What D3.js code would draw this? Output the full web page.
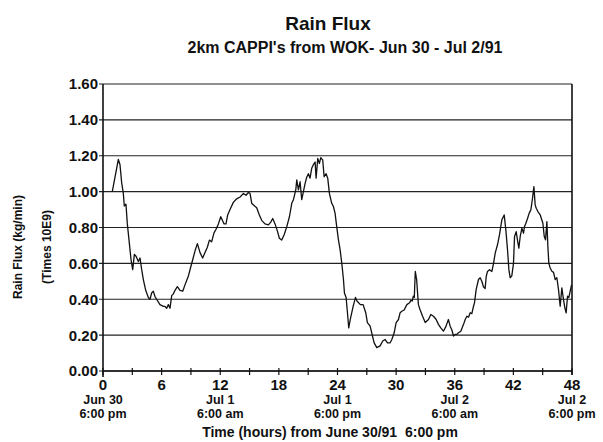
<!DOCTYPE html>
<html>
<head>
<meta charset="utf-8">
<script src="https://cdn.jsdelivr.net/npm/d3@7"></script>
<style>
  body { margin: 0; background: #fff; }
  text { font-family: "Liberation Sans", Arial, sans-serif; fill: #111; }
</style>
</head>
<body>
<div id="chart"></div>
<script>
// hours from Jun 30/91 6:00 pm
const hours = [
  0.95, 1.57, 1.74, 1.91, 2.08, 2.18, 2.35, 2.49, 2.70, 2.87, 3.04, 3.21, 3.38, 3.62, 3.79, 3.96,
  4.13, 4.37, 4.64, 4.81, 4.98, 5.15, 5.32, 5.49, 5.83, 6.18, 6.34, 6.52, 6.69, 6.86, 7.03, 7.20,
  7.37, 7.61, 7.88, 8.16, 8.39, 8.74, 8.98, 9.18, 9.42, 9.66, 9.93, 10.20, 10.44, 10.68, 10.89,
  11.12, 11.36, 11.57, 11.81, 12.05, 12.22, 12.39, 12.59, 12.76, 13.00, 13.34, 13.68, 14.03, 14.37,
  14.64, 14.88, 15.05, 15.22,
  15.40, 15.73, 16.00, 16.24, 16.58, 16.93, 17.17, 17.37, 17.61, 17.85, 18.05, 18.29, 18.54, 18.81,
  19.08, 19.32, 19.49, 19.73, 19.83, 20.00, 20.17, 20.34, 20.68, 20.85, 21.02, 21.19, 21.36, 21.53,
  21.71, 21.81, 21.98, 22.15, 22.29, 22.49, 22.63, 22.83, 23.00, 23.17, 23.41, 23.58, 23.75, 23.92,
  24.10, 24.27, 24.44, 24.61, 24.71, 24.88, 25.02, 25.15, 25.32, 25.60, 25.84, 25.99, 26.34, 26.62,
  26.89, 27.06, 27.34, 27.58, 27.75, 28.02, 28.36, 28.63, 28.87, 29.11, 29.39, 29.56, 29.80, 30.00,
  30.24, 30.41, 30.58, 30.82, 31.10, 31.37, 31.51, 31.65, 31.76, 31.86, 31.96, 32.10,
  32.28, 32.46, 32.71, 32.98, 33.31, 33.55, 33.82, 34.10, 34.33, 34.57, 34.84, 35.11, 35.35, 35.53,
  35.70, 35.87, 36.04, 36.21, 36.38, 36.62, 36.90, 37.07, 37.24, 37.41, 37.58, 37.75, 37.92, 38.02,
  38.19, 38.43, 38.60, 38.77, 38.94, 39.11, 39.22, 39.35, 39.56, 39.80, 39.97, 40.14, 40.38, 40.58,
  40.82, 41.06, 41.23, 41.40, 41.54, 41.67, 41.84, 42.01, 42.12, 42.29, 42.42, 42.56, 42.70, 42.87,
  43.04, 43.14, 43.28, 43.45, 43.62, 43.79, 43.96, 44.10, 44.23, 44.34, 44.51, 44.75, 45.02, 45.16,
  45.29, 45.43, 45.53, 45.63, 45.77, 45.94, 46.11, 46.28, 46.45, 46.62, 46.79, 46.96, 47.13, 47.27,
  47.40, 47.54, 47.68, 47.81, 47.95, 48.05, 48.12
];

// rain flux, kg/min times 10E9
const flux = [
  1.00, 1.18, 1.15, 1.05, 0.99, 0.92, 0.93, 0.82, 0.71, 0.62, 0.565, 0.65, 0.64, 0.61, 0.63, 0.565,
  0.51, 0.45, 0.41, 0.40, 0.435, 0.445, 0.415, 0.40, 0.37, 0.36, 0.36, 0.35, 0.37, 0.35, 0.42, 0.43,
  0.45, 0.47, 0.45, 0.445, 0.48, 0.53, 0.58, 0.62, 0.67, 0.71, 0.66, 0.63, 0.66, 0.69, 0.73,
  0.72, 0.77, 0.79, 0.82, 0.86, 0.84, 0.82, 0.82, 0.87, 0.90, 0.94, 0.96, 0.97, 0.99,
  0.98, 0.995, 0.99, 0.935,
  0.925, 0.91, 0.87, 0.84, 0.82, 0.815, 0.83, 0.85, 0.82, 0.78, 0.74, 0.73, 0.76, 0.805,
  0.86, 0.935, 0.955, 1.01, 1.065, 1.01, 1.055, 0.955, 1.045, 1.08, 1.10, 1.075, 1.13, 1.15,
  1.165, 1.075, 1.185, 1.157, 1.19, 1.175, 1.083, 1.10, 1.075, 0.99, 0.935, 0.917, 0.88, 0.805,
  0.73, 0.675, 0.60, 0.51, 0.435, 0.41, 0.325, 0.24, 0.29, 0.36, 0.41, 0.39, 0.37, 0.37,
  0.325, 0.27, 0.25, 0.195, 0.157, 0.13, 0.14, 0.167, 0.176, 0.157, 0.157, 0.176, 0.213, 0.27,
  0.287, 0.325, 0.333, 0.34, 0.37, 0.38, 0.394, 0.39, 0.417, 0.41, 0.555, 0.51,
  0.37, 0.34, 0.305, 0.27, 0.287, 0.315, 0.305, 0.287, 0.26, 0.24,
  0.222, 0.25, 0.287, 0.25, 0.23, 0.195, 0.204, 0.204, 0.213, 0.222, 0.26, 0.287, 0.305, 0.30, 0.325,
  0.32, 0.361, 0.38, 0.454, 0.51, 0.52, 0.50, 0.47, 0.46, 0.527, 0.555, 0.565, 0.555, 0.60,
  0.657, 0.705, 0.76, 0.843, 0.87, 0.787, 0.676, 0.565, 0.52, 0.53, 0.60, 0.75, 0.777, 0.73, 0.685,
  0.75, 0.796, 0.768, 0.806, 0.824, 0.85, 0.88, 0.898, 0.963, 1.028, 0.926, 0.907, 0.889, 0.87,
  0.824, 0.75, 0.731, 0.833, 0.694, 0.60, 0.574, 0.556, 0.55, 0.51, 0.52, 0.454, 0.361, 0.463,
  0.398, 0.352, 0.324, 0.417, 0.41, 0.444, 0.48
];

const yTicks = [0, 0.2, 0.4, 0.6, 0.8, 1.0, 1.2, 1.4, 1.6];
const xMinorTicks = d3.range(0, 49, 3);
const xMajorTicks = [0, 6, 12, 18, 24, 30, 36, 42, 48];
const dateTicks = [0, 12, 24, 36, 48];
const dateLine1 = ["Jun 30", "Jul 1", "Jul 1", "Jul 2", "Jul 2"];
const dateLine2 = ["6:00 pm", "6:00 am", "6:00 pm", "6:00 am", "6:00 pm"];

function drawChart() {
  const width = 603, height = 442;
  const margin = { top: 84, right: 31, bottom: 71, left: 103 };
  const w = width - margin.left - margin.right;
  const h = height - margin.top - margin.bottom;

  const svg = d3.select("#chart").append("svg")
    .attr("width", width)
    .attr("height", height);

  const g = svg.append("g")
    .attr("transform", `translate(${margin.left},${margin.top})`);

  const x = d3.scaleLinear().domain([0, 48]).range([0, w]);
  const y = d3.scaleLinear().domain([0, 1.6]).range([h, 0]);

  // gridlines
  g.selectAll(".grid")
    .data(yTicks)
    .join("line")
    .attr("x1", -4).attr("x2", w)
    .attr("y1", d => y(d)).attr("y2", d => y(d))
    .attr("stroke", "#222")
    .attr("stroke-width", 1.1);

  g.selectAll(".ylab")
    .data(yTicks)
    .join("text")
    .attr("x", -5)
    .attr("y", d => y(d))
    .attr("dy", "0.36em")
    .attr("text-anchor", "end")
    .attr("font-size", 15)
    .attr("font-weight", "bold")
    .text(d => d.toFixed(2));

  // axes frame
  g.append("line").attr("x1", 0).attr("x2", 0).attr("y1", 0).attr("y2", h + 6)
    .attr("stroke", "#111").attr("stroke-width", 1.6);
  g.append("line").attr("x1", w).attr("x2", w).attr("y1", 0).attr("y2", h + 4)
    .attr("stroke", "#111").attr("stroke-width", 1.6);
  g.append("line").attr("x1", 0).attr("x2", w).attr("y1", h).attr("y2", h)
    .attr("stroke", "#111").attr("stroke-width", 1.4);

  g.selectAll(".xtick")
    .data(xMinorTicks)
    .join("line")
    .attr("x1", d => x(d)).attr("x2", d => x(d))
    .attr("y1", h - 3).attr("y2", h + 4)
    .attr("stroke", "#111")
    .attr("stroke-width", 1.2);

  g.selectAll(".xlab")
    .data(xMajorTicks)
    .join("text")
    .attr("x", d => x(d))
    .attr("y", h + 19)
    .attr("text-anchor", "middle")
    .attr("font-size", 15)
    .attr("font-weight", "bold")
    .text(d => d);

  g.selectAll(".date1")
    .data(dateTicks)
    .join("text")
    .attr("x", d => x(d))
    .attr("y", h + 33)
    .attr("text-anchor", "middle")
    .attr("font-size", 12.5)
    .attr("font-weight", "bold")
    .text((d, i) => dateLine1[i]);

  g.selectAll(".date2")
    .data(dateTicks)
    .join("text")
    .attr("x", d => x(d))
    .attr("y", h + 47)
    .attr("text-anchor", "middle")
    .attr("font-size", 12.5)
    .attr("font-weight", "bold")
    .text((d, i) => dateLine2[i]);

  // data line
  const pts = hours.map((d, i) => [d, flux[i]]);
  g.append("path")
    .datum(pts)
    .attr("fill", "none")
    .attr("stroke", "#111")
    .attr("stroke-width", 1.3)
    .attr("stroke-linejoin", "round")
    .attr("d", d3.line().x(d => x(d[0])).y(d => y(d[1])));

  // titles
  svg.append("text")
    .attr("x", 328).attr("y", 30)
    .attr("text-anchor", "middle")
    .attr("font-size", 19)
    .attr("font-weight", "bold")
    .text("Rain Flux");

  svg.append("text")
    .attr("x", 345).attr("y", 53)
    .attr("text-anchor", "middle")
    .attr("font-size", 16)
    .attr("font-weight", "bold")
    .text("2km CAPPI's from WOK- Jun 30 - Jul 2/91");

  svg.append("text")
    .attr("x", 330).attr("y", 437)
    .attr("text-anchor", "middle")
    .attr("font-size", 14)
    .attr("font-weight", "bold")
    .style("white-space", "pre")
    .text("Time (hours) from June 30/91  6:00 pm");

  svg.append("text")
    .attr("transform", "translate(22,247) rotate(-90)")
    .attr("text-anchor", "middle")
    .attr("font-size", 12)
    .attr("font-weight", "bold")
    .text("Rain Flux (kg/min)");

  svg.append("text")
    .attr("transform", "translate(51,247) rotate(-90)")
    .attr("text-anchor", "middle")
    .attr("font-size", 12)
    .attr("font-weight", "bold")
    .text("(Times 10E9)");
}

drawChart();
</script>
</body>
</html>
